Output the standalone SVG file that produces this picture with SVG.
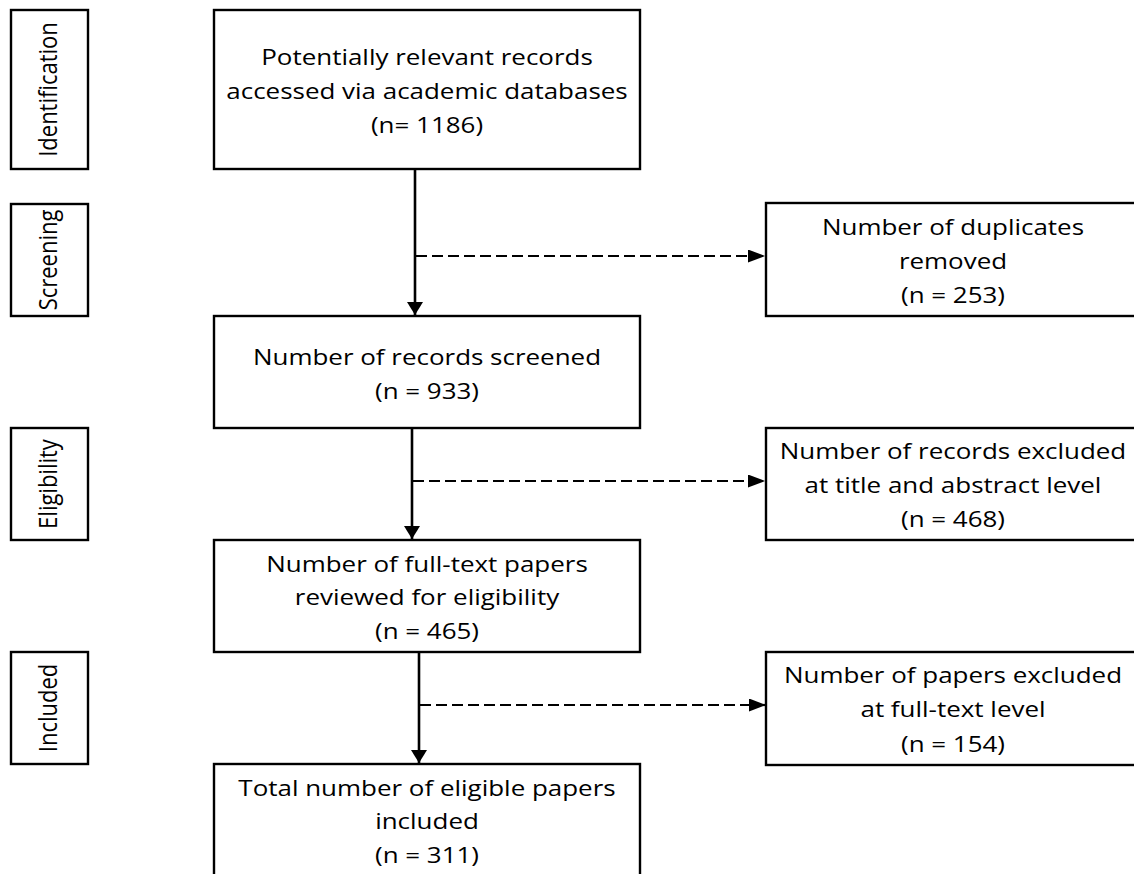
<svg xmlns="http://www.w3.org/2000/svg" width="1134" height="874" viewBox="0 0 1134 874">
<style>
.box{fill:#fff;stroke:#000;stroke-width:2.4}
.t{font-family:"Open Sans","Liberation Sans",sans-serif;font-size:22px;fill:#000;text-anchor:middle}
.ln{stroke:#000;stroke-width:2.6;fill:none}
.dash{stroke:#000;stroke-width:2.2;fill:none;stroke-dasharray:11,5}
</style>
<defs>
<marker id="av" viewBox="0 0 13 16" refX="13" refY="8" markerWidth="13" markerHeight="16" markerUnits="userSpaceOnUse" orient="auto">
<path d="M0,0 L13,8 L0,16 Z" fill="#000"/>
</marker>
<marker id="ah" viewBox="0 0 17 13" refX="17" refY="6.5" markerWidth="17" markerHeight="13" markerUnits="userSpaceOnUse" orient="auto">
<path d="M0,0 L17,6.5 L0,13 Z" fill="#000"/>
</marker>
</defs>
<rect width="1134" height="874" fill="#fff"/>
<g id="stage-identification"><rect class="box" x="11" y="10" width="77" height="159"/><text class="t" transform="translate(57,89.5) rotate(-90) scale(1,1.18)">Identification</text></g>
<g id="stage-screening"><rect class="box" x="11" y="204" width="77" height="112"/><text class="t" transform="translate(57,260) rotate(-90) scale(1,1.18)">Screening</text></g>
<g id="stage-eligibility"><rect class="box" x="11" y="428" width="77" height="112"/><text class="t" transform="translate(57,484) rotate(-90) scale(1,1.18)">Eligibility</text></g>
<g id="stage-included"><rect class="box" x="11" y="652" width="77" height="112"/><text class="t" transform="translate(57,708) rotate(-90) scale(1,1.18)">Included</text></g>
<g id="n1"><rect class="box" x="214" y="10" width="426" height="159"/><text class="t" transform="translate(427,65) scale(1.18,1)">Potentially relevant records</text><text class="t" transform="translate(427,99) scale(1.18,1)">accessed via academic databases</text><text class="t" transform="translate(427,133) scale(1.18,1)">(n= 1186)</text></g>
<g id="n2"><rect class="box" x="214" y="316" width="426" height="112"/><text class="t" transform="translate(427,365) scale(1.18,1)">Number of records screened</text><text class="t" transform="translate(427,399) scale(1.18,1)">(n = 933)</text></g>
<g id="n3"><rect class="box" x="214" y="540" width="426" height="112"/><text class="t" transform="translate(427,572) scale(1.18,1)">Number of full-text papers</text><text class="t" transform="translate(427,605) scale(1.18,1)">reviewed for eligibility</text><text class="t" transform="translate(427,639) scale(1.18,1)">(n = 465)</text></g>
<g id="n4"><rect class="box" x="214" y="764" width="426" height="130"/><text class="t" transform="translate(427,796) scale(1.18,1)">Total number of eligible papers</text><text class="t" transform="translate(427,829) scale(1.18,1)">included</text><text class="t" transform="translate(427,863) scale(1.18,1)">(n = 311)</text></g>
<g id="r1"><rect class="box" x="766" y="203" width="375" height="113"/><text class="t" transform="translate(953,235) scale(1.18,1)">Number of duplicates</text><text class="t" transform="translate(953,269) scale(1.18,1)">removed</text><text class="t" transform="translate(953,303) scale(1.18,1)">(n = 253)</text></g>
<g id="r2"><rect class="box" x="766" y="428" width="375" height="112"/><text class="t" transform="translate(953,459) scale(1.18,1)">Number of records excluded</text><text class="t" transform="translate(953,493) scale(1.18,1)">at title and abstract level</text><text class="t" transform="translate(953,527) scale(1.18,1)">(n = 468)</text></g>
<g id="r3"><rect class="box" x="766" y="652" width="375" height="113"/><text class="t" transform="translate(953,683) scale(1.18,1)">Number of papers excluded</text><text class="t" transform="translate(953,717) scale(1.18,1)">at full-text level</text><text class="t" transform="translate(953,752) scale(1.18,1)">(n = 154)</text></g>
<g id="connectors">
<line class="ln" x1="415" y1="169" x2="415" y2="315" marker-end="url(#av)"/>
<line class="dash" x1="416" y1="256" x2="765" y2="256" marker-end="url(#ah)"/>
<line class="ln" x1="412" y1="428" x2="412" y2="539" marker-end="url(#av)"/>
<line class="dash" x1="413" y1="481" x2="765" y2="481" marker-end="url(#ah)"/>
<line class="ln" x1="419" y1="652" x2="419" y2="763" marker-end="url(#av)"/>
<line class="dash" x1="420" y1="705" x2="766" y2="705" marker-end="url(#ah)"/>
</g>
</svg>
